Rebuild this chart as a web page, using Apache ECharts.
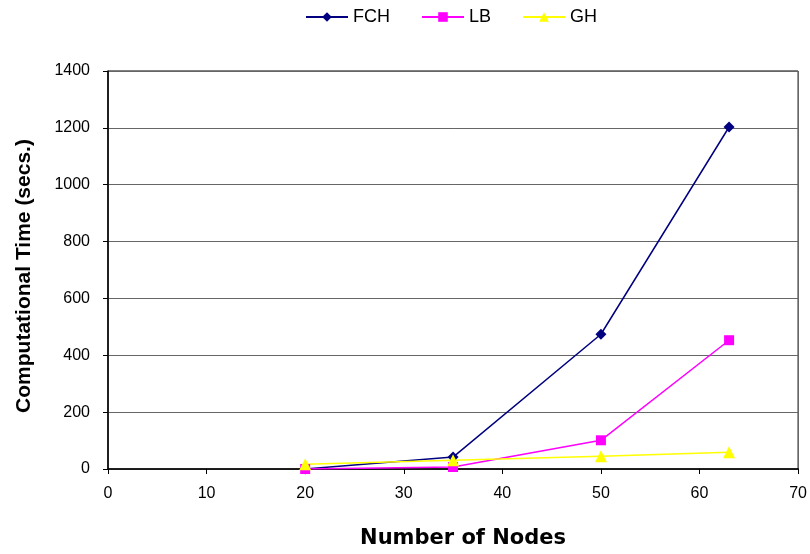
<!DOCTYPE html>
<html><head><meta charset="utf-8">
<script src="https://cdn.jsdelivr.net/npm/echarts@6/dist/echarts.min.js"></script>
<style>html,body{margin:0;padding:0;background:#fff}#c{width:810px;height:554px}</style>
</head><body><div id="c"></div>
<script>
const nodes = [20, 35, 50, 63];
const fch = [0, 42, 474, 1203];
const lb = [0, 7, 101, 453];
const gh = [17, 31, 45, 59];
const seriesNames = ['FCH', 'LB', 'GH'];

const chart = echarts.init(document.getElementById('c'));
const font = 'Liberation Sans, Arial, sans-serif';
function pts(v){ return nodes.map((x,i)=>[x, v[i]]); }
chart.setOption({
  animation: false,
  backgroundColor: '#fff',
  legend: {
    top: 3, left: 300, itemGap: 31, itemWidth: 42, itemHeight: 12,
    textStyle: {fontFamily: font, fontSize: 18, color: '#000'},
    data: seriesNames
  },
  grid: {left: 108, right: 10, top: 71, bottom: 81, show: true, borderColor: '#000', borderWidth: 1, backgroundColor: 'transparent'},
  xAxis: {
    type: 'value', min: 0, max: 70, interval: 10,
    name: 'Number of Nodes', nameLocation: 'middle', nameGap: 59,
    nameTextStyle: {fontFamily: 'DejaVu Sans', fontSize: 21, fontWeight: 'bold', color: '#000', padding: [0, 0, 0, 20]},
    axisLine: {lineStyle: {color: '#000', width: 1.5}},
    axisTick: {show: true, length: 5, lineStyle: {color: '#000'}},
    axisLabel: {fontFamily: font, fontSize: 16, color: '#000', margin: 17},
    splitLine: {show: false}
  },
  yAxis: {
    type: 'value', min: 0, max: 1400, interval: 200,
    name: 'Computational Time (secs.)', nameLocation: 'middle', nameGap: 73, nameRotate: 90,
    nameTextStyle: {fontFamily: font, fontSize: 21, fontWeight: 'bold', color: '#000', padding: [0, 12, 0, 0]},
    axisLine: {show: true, lineStyle: {color: '#000', width: 1.5}},
    axisTick: {show: true, length: 5, lineStyle: {color: '#000'}},
    axisLabel: {fontFamily: font, fontSize: 16, color: '#000', margin: 18, formatter: v => String(v)},
    splitLine: {show: true, lineStyle: {color: '#666', width: 1}}
  },
  series: [
    {name: 'FCH', type: 'line', data: pts(fch), symbol: 'diamond', symbolSize: 11,
     lineStyle: {color: '#000080', width: 1.5}, itemStyle: {color: '#000080'}},
    {name: 'LB', type: 'line', data: pts(lb), symbol: 'rect', symbolSize: 10,
     lineStyle: {color: '#ff00ff', width: 1.5}, itemStyle: {color: '#ff00ff'}},
    {name: 'GH', type: 'line', data: pts(gh), symbol: 'triangle', symbolSize: 12,
     lineStyle: {color: '#ffff00', width: 1.5}, itemStyle: {color: '#ffff00'}}
  ]
});
</script></body></html>
